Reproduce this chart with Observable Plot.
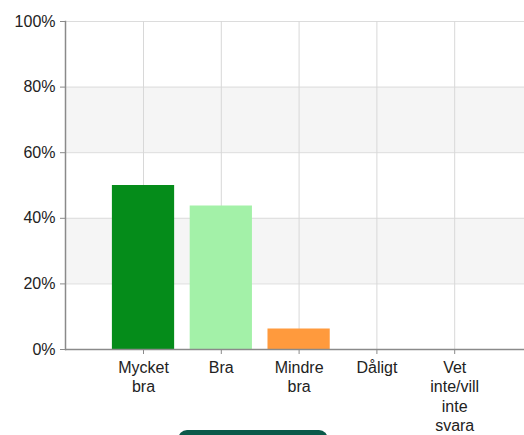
<!DOCTYPE html>
<html>
<head>
<meta charset="utf-8">
<script src="https://cdn.jsdelivr.net/npm/d3@7"></script>
<script src="https://cdn.jsdelivr.net/npm/@observablehq/plot@0.6"></script>
<style>
  html, body { margin: 0; padding: 0; background: #fff; overflow: hidden; }
  #chart { position: relative; }
  #chart svg { display: block; }
  #btn { position: absolute; top: 430px; left: 178px; width: 150px; height: 12px; background: #0b5a4a; border-radius: 9px 9px 0 0; }
</style>
</head>
<body>
<div id="chart"></div>
<div id="btn"></div>
<script>
const categories = ["Mycket bra", "Bra", "Mindre bra", "Dåligt", "Vet inte/vill inte svara"];
const labels = ["Mycket\nbra", "Bra", "Mindre\nbra", "Dåligt", "Vet\ninte/vill\ninte\nsvara"];
const values = [50, 43.75, 6.25, 0, 0];
const colors = ["#058c1a", "#a3f1a8", "#ff9a3d", "#cc3333", "#999999"];
const yTicks = [0, 20, 40, 60, 80, 100];
const stripes = [[20, 40], [60, 80]];

const data = categories.map((c, i) => ({cat: c, label: labels[i], value: values[i], color: colors[i]}));

const chart = Plot.plot({
  width: 524,
  height: 435,
  marginLeft: 65,
  marginRight: 0,
  marginTop: 21,
  marginBottom: 86,
  style: {fontFamily: "Arial, 'Liberation Sans', sans-serif", fontSize: "16px", color: "#333", background: "#fff"},
  x: {domain: categories, paddingInner: 0.2, paddingOuter: 0.55, align: 0.548, round: false},
  y: {domain: [0, 100]},
  marks: [
    Plot.rect(stripes, {y1: d => d[0], y2: d => d[1], fill: "#f5f5f5"}),
    Plot.gridY(yTicks, {stroke: "#dcdcdc", strokeOpacity: 1}),
    Plot.gridX(categories, {stroke: "#d8d8d8", strokeOpacity: 1}),
    Plot.barY(data, {x: "cat", y: "value", fill: "color"}),
    Plot.ruleY([0], {stroke: "#8a8a8a", strokeWidth: 1.5}),
    Plot.frame({anchor: "left", stroke: "#8a8a8a", strokeWidth: 1.5}),
    Plot.axisY(yTicks, {tickSize: 5, tickPadding: 5, stroke: "#8a8a8a", fill: "#222", tickFormat: d => d + "%", label: null, fontSize: 16}),
    Plot.axisX(categories, {tickSize: 5, tickPadding: 5, stroke: "#8a8a8a", fill: "#222", tickFormat: d => labels[categories.indexOf(d)], lineHeight: 1.2, label: null, fontSize: 16})
  ]
});
document.getElementById("chart").append(chart);
</script>
</body>
</html>
